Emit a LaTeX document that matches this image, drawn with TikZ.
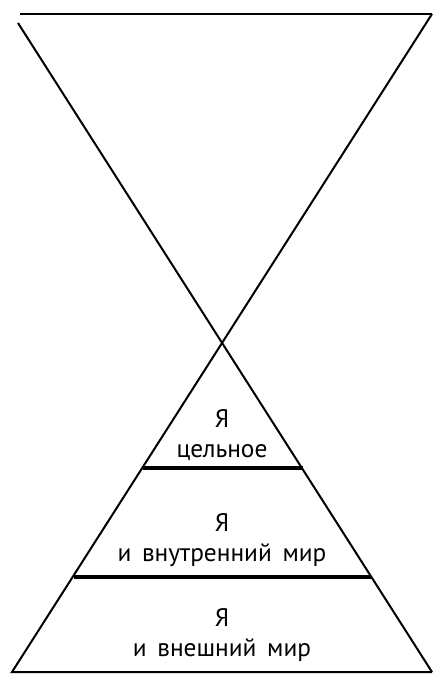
\documentclass[tikz,border=0pt]{standalone}
\usepackage{fontspec}
\setmainfont{PT Sans}
\newcommand{\lblfont}{\fontsize{19}{22}\selectfont\spaceskip=0.42em\relax}
\tikzset{
  level/.style={line width=3pt},
  lbl/.style={align=center, font=\lblfont}
}
\begin{document}
\begin{tikzpicture}[x=0.75pt, y=-0.75pt, line width=1.5pt]
    \useasboundingbox (0,0) rectangle (445,683);

    % hourglass
    \draw (20,14) -- (432,14);
    \draw (432,14) -- (12,672) -- (432,672);
    \draw (18,23) -- (432,672);

    % levels
    \draw[level] (143,468) -- (303,468);
    \draw[level] (74,577) -- (371,577);

    \node[lbl] (whole) at (222,435) {Я\\цельное};
    \node[lbl] (inner) at (222,540) {Я\\и внутренний мир};
    \node[lbl] (outer) at (222,635) {Я\\и внешний мир};

\end{tikzpicture}
\end{document}
